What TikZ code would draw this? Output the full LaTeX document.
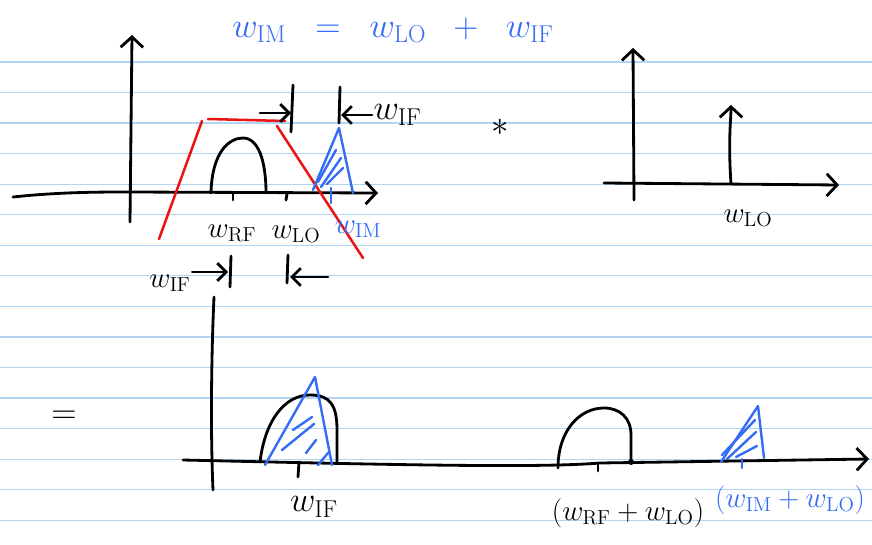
\documentclass[tikz,border=0pt]{standalone}
\usepackage{xcolor}
\usepackage{tikz}
\usetikzlibrary{arrows.meta, positioning}
\definecolor{PenBlue}{RGB}{52,108,245}
\definecolor{PenRed}{RGB}{235,20,20}
\definecolor{RuleBlue}{RGB}{178,212,245}

\tikzset{
  ink/.style={black, line width=2pt, line cap=round, line join=round},
  blueink/.style={PenBlue, line width=1.7pt, line cap=round, line join=round},
  redink/.style={PenRed, line width=1.8pt, line cap=round},
  axisarrow/.style={-{Straight Barb[length=2.6mm,width=5.6mm]}},
  dimarrow/.style={-{Straight Barb[length=2.2mm,width=4.4mm]}},
  handlabel/.style={inner sep=1pt, font=\fontsize{20}{22}\selectfont},
  biglabel/.style={inner sep=1pt, font=\fontsize{24}{26}\selectfont},
}

\begin{document}
\begin{tikzpicture}[x=0.25mm,y=-0.25mm]
  \path[use as bounding box] (0,0) rectangle (872,545);
  \fill[white] (0,0) rectangle (872,545);
  % ruled paper
  \foreach \i in {0,...,15}{
    \draw[RuleBlue, line width=0.9pt] (0,62+30.55*\i) -- (872,62+30.55*\i);
  }

  % image frequency relation
  \node[biglabel, PenBlue] (relation) at (393,30)
    {$w_{\mathrm{IM}} \;\;=\;\; w_{\mathrm{LO}} \;\;+\;\; w_{\mathrm{IF}}$};

  % --- input spectrum with RF filter ---
  \draw[ink, axisarrow] (130,222) -- (132,35);
  \draw[ink, axisarrow] (13,197) .. controls (60,192) and (100,192) .. (130,192) -- (378,193);
  \draw[ink] (211,193) .. controls (212,152) and (229,138) .. (243,138)
    .. controls (258,138) and (266,160) .. (266,193);
  \draw[ink] (233,193) -- (233,200);
  \draw[ink] (287,194) -- (286,200);
  % filter
  \draw[redink] (159,239) -- (202,121);
  \draw[redink] (208,119) -- (285,121);
  \draw[redink] (277,126) -- (363,258);
  % image band
  \draw[blueink] (313,190) -- (339,128) -- (353,193);
  \draw[blueink] (318,182) -- (336,150);
  \draw[blueink] (321,187) -- (341,158);
  \draw[blueink] (327,184) -- (343,168);
  \draw[blueink] (331,188) -- (331,203);

  \node[handlabel] (wRF) at (232,233) {$w_{\mathrm{RF}}$};
  \node[handlabel] (wLO) at (296,234) {$w_{\mathrm{LO}}$};
  \node[handlabel, PenBlue] (wIM) at (358,229) {$w_{\mathrm{IM}}$};

  % IF offset above
  \coordinate (barA) at (291,113);
  \coordinate (barB) at (341,115);
  \coordinate (arrA) at (260,113);
  \draw[ink] (293,85) -- (291,132);
  \draw[ink] (340,87) -- (339,123);
  \draw[ink, dimarrow] (arrA) -- (barA);
  \node[biglabel, anchor=west] (wIFtop) at (372,115) {$w_{\mathrm{IF}}$};
  \draw[ink, dimarrow] (wIFtop.west) -- (barB);

  % IF offset below
  \node[handlabel] (wIFmid) at (170,283) {$w_{\mathrm{IF}}$};
  \coordinate (barC) at (228,272);
  \coordinate (barD) at (290,277);
  \coordinate (arrD) at (328,277);
  \draw[ink] (231,256) -- (230,287);
  \draw[ink] (288,255) -- (287,283);
  \draw[ink, dimarrow] (wIFmid.east |- barC) -- (barC);
  \draw[ink, dimarrow] (arrD) -- (barD);

  % multiply
  \node[handlabel, font=\fontsize{30}{30}\selectfont] (times) at (500,127) {$\ast$};

  % --- LO spectrum ---
  \draw[ink, axisarrow] (634,200) -- (633,48);
  \draw[ink, axisarrow] (604,183) -- (839,185);
  \draw[ink, axisarrow] (731,184) .. controls (728,140) and (731,120) .. (731,105);
  \node[handlabel] (wLOr) at (748,218) {$w_{\mathrm{LO}}$};

  % --- output spectrum ---
  \node[biglabel] (equals) at (64,417) {$=$};
  \draw[ink] (213,490) .. controls (210,420) and (212,340) .. (214,297);
  \draw[ink, axisarrow] (183,460) .. controls (400,465) and (540,468) .. (600,463) -- (869,459);
  % downconverted band
  \draw[ink] (260,462) .. controls (265,420) and (285,395) .. (310,395)
    .. controls (330,395) and (337,405) .. (337,430) -- (337,462);
  \draw[ink] (299,462) -- (298,477);
  \draw[blueink] (265,465) -- (315,377) -- (332,465);
  \draw[blueink] (293,430) -- (312,417);
  \draw[blueink] (282,450) -- (314,424);
  \draw[blueink] (306,453) -- (316,440);
  \draw[blueink] (318,465) -- (328,453);
  \node[biglabel] (wIFbot) at (314,507) {$w_{\mathrm{IF}}$};
  % upconverted band
  \draw[ink] (558,468) .. controls (558,430) and (580,408) .. (604,408)
    .. controls (620,408) and (631,418) .. (631,435) -- (631,462);
  \fill (631,462) circle (3);
  \draw[ink] (598,464) -- (598,471);
  \draw[blueink] (721,462) -- (758,406) -- (764,458);
  \draw[blueink] (722,455) -- (755,420);
  \draw[blueink] (727,459) -- (756,432);
  \draw[blueink] (736,457) -- (757,446);
  \draw[blueink] (742,459) -- (742,468);
  \node[handlabel] (sumRF) at (628,513) {$(w_{\mathrm{RF}} + w_{\mathrm{LO}})$};
  \node[handlabel, PenBlue] (sumIM) at (790,500) {$(w_{\mathrm{IM}} + w_{\mathrm{LO}})$};
\end{tikzpicture}
\end{document}
